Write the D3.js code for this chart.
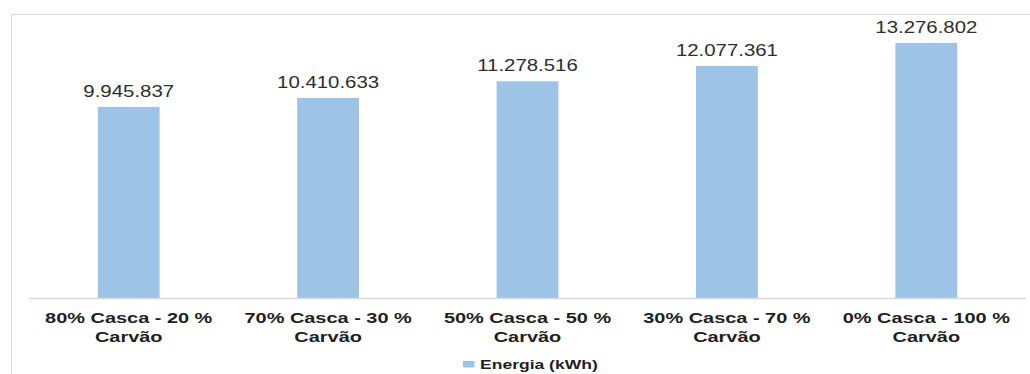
<!DOCTYPE html>
<html>
<head>
<meta charset="utf-8">
<script src="https://cdn.jsdelivr.net/npm/d3@7"></script>
<style>
  html, body { margin: 0; padding: 0; background: #ffffff; }
  svg { display: block; font-family: "Liberation Sans", Arial, sans-serif; }
</style>
</head>
<body>
<script>
const categoriesLine1 = ["80% Casca - 20 %", "70% Casca - 30 %", "50% Casca - 50 %", "30% Casca - 70 %", "0% Casca - 100 %"];
const categoriesLine2 = ["Carvão", "Carvão", "Carvão", "Carvão", "Carvão"];
const energia = [9945837, 10410633, 11278516, 12077361, 13276802];
const valueLabels = ["9.945.837", "10.410.633", "11.278.516", "12.077.361", "13.276.802"];
const seriesName = "Energia (kWh)";

const W = 1030, H = 374;
const svg = d3.select("body").append("svg").attr("width", W).attr("height", H);

// outer frame
svg.append("rect")
  .attr("x", 11.5).attr("y", 14.5).attr("width", 1040).attr("height", 400)
  .attr("fill", "none").attr("stroke", "#d9d9d9").attr("stroke-width", 1);

const x = d3.scaleBand()
  .domain(d3.range(energia.length))
  .range([29, 1026])
  .paddingInner(0.69)
  .paddingOuter(0.345);

const y = d3.scaleLinear().domain([0, 14000000]).range([298, 29]);

// bars
svg.append("g").selectAll("rect")
  .data(energia)
  .join("rect")
  .attr("x", (d, i) => x(i))
  .attr("width", x.bandwidth())
  .attr("y", d => y(d))
  .attr("height", d => y(0) - y(d))
  .attr("fill", "#9dc3e6");

// baseline
svg.append("line")
  .attr("x1", 29).attr("x2", 1026)
  .attr("y1", y(0) + 0.5).attr("y2", y(0) + 0.5)
  .attr("stroke", "#d9d9d9").attr("stroke-width", 1.5);

// value labels
svg.append("g").selectAll("text")
  .data(energia)
  .join("text")
  .attr("transform", (d, i) => `translate(${x(i) + x.bandwidth() / 2},${y(d) - 10}) scale(1.2,1)`)
  .attr("text-anchor", "middle")
  .attr("font-size", 17)
  .attr("fill", "#2e2e2e")
  .text((d, i) => valueLabels[i]);

// category labels
const cat = svg.append("g").selectAll("g")
  .data(categoriesLine1)
  .join("g");
cat.append("text")
  .attr("transform", (d, i) => `translate(${x(i) + x.bandwidth() / 2},322.7) scale(1.33,1)`)
  .attr("text-anchor", "middle")
  .attr("font-size", 15)
  .attr("font-weight", "bold")
  .attr("fill", "#1f1f1f")
  .text(d => d);
cat.append("text")
  .attr("transform", (d, i) => `translate(${x(i) + x.bandwidth() / 2},341.5) scale(1.33,1)`)
  .attr("text-anchor", "middle")
  .attr("font-size", 15)
  .attr("font-weight", "bold")
  .attr("fill", "#1f1f1f")
  .text((d, i) => categoriesLine2[i]);

// legend
const lg = svg.append("g");
lg.append("rect")
  .attr("x", 463).attr("y", 361).attr("width", 11.5).attr("height", 6.5)
  .attr("fill", "#9dc3e6");
lg.append("text")
  .attr("transform", "translate(480,368.5) scale(1.38,1)")
  .attr("font-size", 12.7)
  .attr("font-weight", "bold")
  .attr("fill", "#1f1f1f")
  .text(seriesName);
</script>
</body>
</html>
